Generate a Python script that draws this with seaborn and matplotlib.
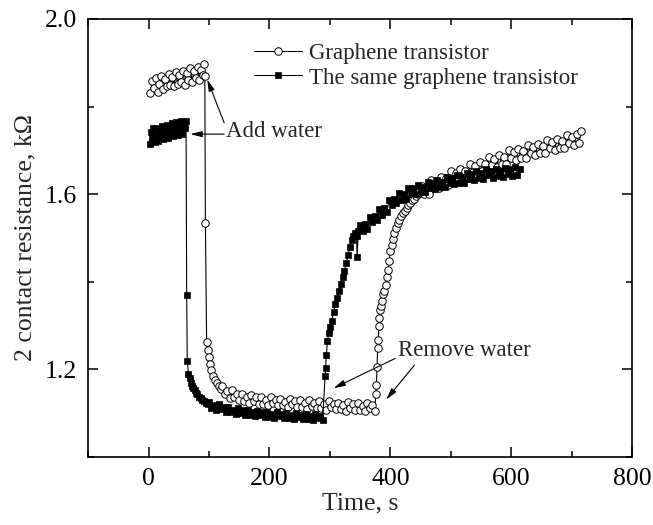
import numpy as np
import pandas as pd
import matplotlib
matplotlib.use('Agg')
import matplotlib.pyplot as plt
import seaborn as sns
from matplotlib.ticker import MultipleLocator

# Graphene transistor (open circles): time (s), resistance (kOhm)
gt_time = [3, 6, 9, 12, 15, 18, 21, 24, 27, 30, 33, 36, 39, 42, 45, 48, 51, 54, 57, 60,
           63, 66, 69, 72, 75, 78, 81, 84, 87, 90, 92, 93,
           94, 96, 98, 100, 102, 104, 107, 110, 113, 116, 119,
           122, 126, 130, 134, 138, 142, 146, 150, 154, 158, 162, 166, 170, 174, 178, 182,
           186, 190, 194, 198, 202, 206, 210, 214, 218, 222, 226, 230, 234, 238, 242, 246,
           250, 254, 258, 262, 266, 270, 274, 278, 282, 286, 290, 294, 298, 302, 306, 310,
           314, 318, 322, 326, 330, 334, 338, 342, 346, 350, 354, 358, 362, 366, 370, 374,
           376, 377, 378, 379, 380, 381, 382, 383, 384, 386, 388, 390, 392, 394, 396, 398,
           400, 402, 404, 406, 409, 412, 415, 418, 421, 424, 427, 430, 433, 436, 439, 442,
           445, 448,
           452, 456, 460, 464, 468, 472, 476, 480, 484, 488, 492, 496, 500, 504, 508, 512,
           516, 520, 524, 528, 532, 536, 540, 544, 548, 552, 556, 560, 564, 568, 572, 576,
           580, 584, 588, 592, 596, 600, 604, 608, 612, 616, 620, 624, 628, 632, 636, 640,
           644, 648, 652, 656, 660, 664, 668, 672, 676, 680, 684, 688, 692, 696, 700, 704,
           708, 712, 716]
gt_res = [1.830, 1.858, 1.842, 1.866, 1.834, 1.852, 1.870, 1.840, 1.862, 1.846, 1.874, 1.848,
          1.868, 1.846, 1.878, 1.852, 1.872, 1.856, 1.882, 1.850, 1.876, 1.860, 1.887, 1.856,
          1.880, 1.864, 1.890, 1.860, 1.884, 1.872, 1.896, 1.870,
          1.535, 1.262, 1.245, 1.228, 1.212, 1.198, 1.186, 1.176, 1.168, 1.162, 1.156,
          1.162, 1.144, 1.150, 1.135, 1.153, 1.138, 1.144, 1.129, 1.144, 1.128, 1.136, 1.123,
          1.142, 1.128, 1.136, 1.122, 1.138, 1.122, 1.130, 1.118, 1.137, 1.124, 1.131, 1.118,
          1.133, 1.118, 1.126, 1.114, 1.133, 1.120, 1.127, 1.114, 1.130, 1.114, 1.123, 1.110,
          1.130, 1.117, 1.124, 1.111, 1.127, 1.111, 1.120, 1.108, 1.127, 1.114, 1.122, 1.109,
          1.124, 1.109, 1.118, 1.106, 1.126, 1.112, 1.120, 1.107, 1.123, 1.108, 1.117, 1.105,
          1.124, 1.111, 1.119, 1.106,
          1.144, 1.165, 1.205, 1.248, 1.267, 1.300, 1.318, 1.335, 1.345, 1.356, 1.372, 1.380,
          1.392, 1.410, 1.428, 1.448, 1.470, 1.485, 1.498, 1.512, 1.522, 1.533, 1.540, 1.550,
          1.556, 1.562, 1.568, 1.575, 1.580, 1.586, 1.590, 1.596, 1.600, 1.604,
          1.619, 1.600, 1.616, 1.601, 1.632, 1.615, 1.630, 1.613, 1.639, 1.620, 1.636, 1.621,
          1.652, 1.634, 1.649, 1.631, 1.657, 1.637, 1.653, 1.637, 1.668, 1.650, 1.665, 1.647,
          1.673, 1.653, 1.669, 1.653, 1.684, 1.666, 1.681, 1.663, 1.689, 1.669, 1.685, 1.669,
          1.700, 1.682, 1.696, 1.678, 1.703, 1.683, 1.698, 1.682, 1.712, 1.694, 1.708, 1.690,
          1.715, 1.694, 1.710, 1.693, 1.724, 1.705, 1.720, 1.701, 1.727, 1.706, 1.722, 1.705,
          1.735, 1.717, 1.731, 1.712, 1.737, 1.717, 1.745]

# The same graphene transistor (filled squares)
sg_time = [2, 4, 6, 8, 10, 12, 14, 16, 18, 20, 22, 24, 26, 28, 30, 32, 34, 36, 38, 40,
           42, 44, 46, 48, 50, 52, 54, 56, 58, 60, 62,
           63, 64, 66, 68, 70, 72, 74, 76, 78, 80, 83, 86, 89, 92, 95, 98,
           100, 104, 108, 112, 116, 120, 124, 128, 132, 136, 140, 144, 148, 152, 156, 160,
           164, 168, 172, 176, 180, 184, 188, 192, 196, 200, 204, 208, 212, 216, 220, 224,
           228, 232, 236, 240, 244, 248, 252, 256, 260, 264, 268, 272, 276, 280, 284, 288,
           292, 293, 294, 296, 298, 300, 303, 306, 309, 312, 315, 318, 321, 324, 327, 330,
           333, 336, 339, 342, 344, 345, 347,
           350, 354, 358, 362, 366, 370, 374, 378, 382, 386, 390, 394, 398, 402, 406, 410,
           414, 418, 422, 426, 430, 434, 438, 442, 446, 450, 454, 458, 462, 466, 470, 474,
           478, 482, 486, 490, 494, 498, 502, 506, 510, 514, 518, 522, 526, 530, 534, 538,
           542, 546, 550, 554, 558, 562, 566, 570, 574, 578, 582, 586, 590, 594, 598, 602,
           606, 610, 614]
sg_res = [1.714, 1.742, 1.728, 1.750, 1.718, 1.736, 1.752, 1.722, 1.745, 1.732, 1.756, 1.725,
          1.748, 1.738, 1.758, 1.728, 1.752, 1.740, 1.762, 1.732, 1.755, 1.744, 1.764, 1.735,
          1.758, 1.746, 1.766, 1.738, 1.760, 1.750, 1.768,
          1.370, 1.220, 1.190, 1.180, 1.170, 1.163, 1.158, 1.152, 1.147, 1.143, 1.138, 1.134,
          1.130, 1.127, 1.124, 1.121,
          1.126, 1.113, 1.118, 1.107, 1.120, 1.109, 1.114, 1.103, 1.114, 1.102, 1.108, 1.098,
          1.111, 1.101, 1.107, 1.096, 1.107, 1.096, 1.102, 1.093, 1.106, 1.097, 1.102, 1.092,
          1.103, 1.092, 1.099, 1.089, 1.103, 1.093, 1.099, 1.089, 1.100, 1.089, 1.096, 1.086,
          1.100, 1.091, 1.096, 1.086, 1.098, 1.087, 1.093, 1.084, 1.098, 1.089, 1.094, 1.084,
          1.185, 1.203, 1.233, 1.265, 1.283, 1.297, 1.310, 1.330, 1.350, 1.362, 1.378, 1.395,
          1.410, 1.425, 1.442, 1.460, 1.480, 1.496, 1.505, 1.512, 1.505, 1.456, 1.515,
          1.530, 1.516, 1.531, 1.521, 1.547, 1.536, 1.551, 1.541, 1.565, 1.552, 1.568, 1.559,
          1.586, 1.576, 1.590, 1.579, 1.602, 1.587, 1.601, 1.590, 1.615, 1.602, 1.614, 1.601,
          1.621, 1.605, 1.617, 1.605, 1.628, 1.615, 1.626, 1.612, 1.633, 1.616, 1.628, 1.616,
          1.639, 1.625, 1.636, 1.623, 1.643, 1.626, 1.638, 1.625, 1.649, 1.635, 1.646, 1.632,
          1.652, 1.636, 1.648, 1.634, 1.657, 1.643, 1.653, 1.637, 1.658, 1.641, 1.652, 1.639,
          1.660, 1.646, 1.657, 1.642, 1.661, 1.644, 1.658]

sns.set_style("ticks")
plt.rcParams['font.family'] = ['Liberation Serif', 'DejaVu Serif']

fig = plt.figure(figsize=(6.53, 5.25), dpi=100)
ax = fig.add_axes([0.135, 0.1295, 0.833, 0.8345])

sns.lineplot(x=gt_time, y=gt_res, ax=ax, sort=False, estimator=None,
             color='black', lw=0.8, marker='o', markersize=5.4,
             markerfacecolor='white', markeredgecolor='black', markeredgewidth=0.7,
             label='Graphene transistor')
sns.lineplot(x=sg_time, y=sg_res, ax=ax, sort=False, estimator=None,
             color='black', lw=0.8, marker='s', markersize=4.8,
             markerfacecolor='black', markeredgecolor='black', markeredgewidth=0.5,
             label='The same graphene transistor')

ax.set_xlim(-100, 800)
ax.set_ylim(1.0, 2.0)
ax.xaxis.set_major_locator(MultipleLocator(200))
ax.xaxis.set_minor_locator(MultipleLocator(100))
ax.yaxis.set_minor_locator(MultipleLocator(0.2))
ax.set_yticks([1.2, 1.6, 2.0])
ax.set_yticklabels(['1.2', '1.6', '2.0'])
ax.tick_params(which='both', direction='in', top=True, right=True, width=1.1,
               labelsize=18.5, colors='black')
ax.tick_params(which='major', length=7, pad=8)
ax.tick_params(which='minor', length=4)
for s in ax.spines.values():
    s.set_linewidth(1.2)
    s.set_color('black')

ax.set_xlabel('Time, s', fontsize=18.5, labelpad=2)
ax.set_ylabel('2 contact resistance, kΩ', fontsize=18.5, labelpad=6)

leg = ax.legend(loc='upper left', bbox_to_anchor=(0.305, 0.945), frameon=False,
                fontsize=16.5, handlelength=2.1, handletextpad=0.3,
                labelspacing=0.15, borderpad=0, borderaxespad=0)

arr = dict(arrowstyle='-|>,head_length=0.7,head_width=0.18', lw=0.8, color='black',
           shrinkA=0, shrinkB=0)
ax.text(128, 1.742, 'Add water', fontsize=16.5, ha='left', va='center')
ax.annotate('', xy=(69, 1.737), xytext=(125, 1.737), arrowprops=arr)
ax.annotate('', xy=(97, 1.862), xytext=(125, 1.763), arrowprops=arr)
ax.text(413, 1.243, 'Remove water', fontsize=16.5, ha='left', va='center')
ax.annotate('', xy=(306, 1.157), xytext=(408, 1.225), arrowprops=arr)
ax.annotate('', xy=(393, 1.131), xytext=(440, 1.210), arrowprops=arr)

fig.savefig('out.png', dpi=100)
